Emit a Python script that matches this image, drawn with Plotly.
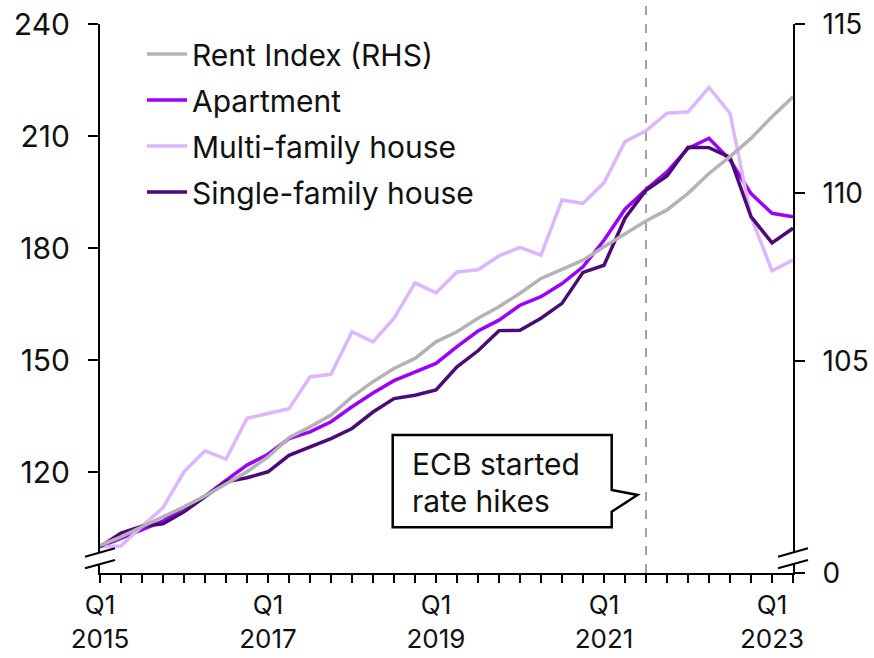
import plotly.graph_objects as go

# ---------------- data ----------------
quarters = [f"Q{q} {y}" for y in range(2015, 2024) for q in range(1, 5)][:34]

rent_index = [99.55, 99.80, 100.10, 100.39, 100.69, 101.01, 101.38, 101.73, 102.17, 102.74,
              103.06, 103.41, 103.95, 104.40, 104.79, 105.09, 105.58, 105.88, 106.28, 106.62,
              107.02, 107.46, 107.73, 108.00, 108.40, 108.79, 109.16, 109.49, 109.98, 110.57,
              111.07, 111.61, 112.25, 112.84]
apartment = [100.0, 102.3, 104.8, 106.9, 110.5, 113.6, 117.8, 121.9, 124.8, 129.0,
             130.8, 133.5, 137.5, 141.2, 144.5, 146.9, 149.1, 153.6, 157.8, 160.7,
             164.7, 167.0, 170.5, 175.0, 182.1, 190.4, 195.7, 200.4, 206.7, 209.4,
             203.6, 194.6, 189.3, 188.4]
multi_family = [100.0, 100.2, 105.5, 110.5, 120.1, 125.7, 123.5, 134.4, 135.7, 137.0,
                145.5, 146.2, 157.6, 154.9, 161.2, 170.7, 168.0, 173.6, 174.2, 177.9,
                180.2, 178.1, 192.9, 192.0, 197.5, 208.5, 211.4, 216.1, 216.5, 223.0,
                216.1, 188.4, 173.9, 176.8]
single_family = [100.0, 103.7, 105.5, 106.2, 109.4, 113.4, 117.4, 118.5, 120.1, 124.5,
                 126.8, 129.0, 131.7, 136.1, 139.7, 140.6, 142.0, 148.2, 152.5, 157.9,
                 158.0, 161.2, 165.2, 173.5, 175.4, 188.0, 195.5, 199.3, 207.0, 206.9,
                 204.3, 188.4, 181.4, 185.3]

left_ticks = [120, 150, 180, 210, 240]
right_ticks = [105, 110, 115]
xlabel_quarters = ["Q1 2015", "Q1 2017", "Q1 2019", "Q1 2021", "Q1 2023"]
event_quarter = "Q3 2021"
event_text = ["ECB started", "rate hikes"]

# ---------------- style ----------------
FONT = "Inter"
FS_LEG = 30
FS_Y = 30
FS_Y2 = 28
FS_X = 26
FS_ANN = 30
TXT = "#111111"
C_RENT = "#b3b3b3"
C_APT = "#9b00ff"
C_MULTI = "#dcb6ff"
C_SINGLE = "#4b0a78"
LW = 3.5

# body margin is removed via post_script, so figure pixels == screen pixels
OFF = 0
W, H = 874, 658
# plot area in screen pixels
L, R, T, B = 100, 793, 24, 573


def px(x):
    return (x - L) / (R - L)


def py(y):
    return (B - y) / (B - T)


left_range = [93.0, 240]
right_range = [98.73, 115]

fig = go.Figure()
fig.add_trace(go.Scatter(x=quarters, y=rent_index, name="Rent Index (RHS)", yaxis="y2",
                         mode="lines", line=dict(color=C_RENT, width=LW), legendgroup="a"))
fig.add_trace(go.Scatter(x=quarters, y=apartment, name="Apartment",
                         mode="lines", line=dict(color=C_APT, width=LW), legendgroup="b"))
fig.add_trace(go.Scatter(x=quarters, y=multi_family, name="Multi-family house",
                         mode="lines", line=dict(color=C_MULTI, width=LW), legendgroup="c"))
fig.add_trace(go.Scatter(x=quarters, y=single_family, name="Single-family house",
                         mode="lines", line=dict(color=C_SINGLE, width=LW), legendgroup="d"))

ticktext = []
for q in quarters:
    if q in xlabel_quarters:
        a, b = q.split(" ")
        ticktext.append(f"{a}<br>{b}")
    else:
        ticktext.append("")

axis_common = dict(showline=True, linecolor="black", linewidth=2,
                   ticks="outside", tickwidth=2, tickcolor="black",
                   showgrid=False, zeroline=False, automargin=False,
                   ticklabeloverflow="allow")

fig.update_layout(
    width=W, height=H,
    margin=dict(l=L - OFF, r=W - (R - OFF), t=T - OFF, b=H - (B - OFF), autoexpand=False),
    paper_bgcolor="white", plot_bgcolor="white",
    font=dict(family=FONT, size=FS_Y, color=TXT),
    showlegend=True,
    legend=dict(x=px(142), y=py(28), xanchor="left", yanchor="top",
                font=dict(size=FS_LEG, color=TXT, family=FONT), bgcolor="rgba(0,0,0,0)",
                tracegroupgap=4, itemwidth=40),
    xaxis=dict(type="category", range=[0, len(quarters) - 1],
               tickvals=quarters, ticktext=ticktext, tickangle=0, ticklen=8,
               tickfont=dict(size=FS_X, color=TXT, family=FONT), **axis_common),
    yaxis=dict(range=left_range, tickvals=left_ticks, ticklabelstandoff=12, ticklen=10,
               tickfont=dict(size=FS_Y, color=TXT, family=FONT), **axis_common),
    yaxis2=dict(range=right_range, overlaying="y", side="right",
                tickvals=[right_range[0]] + right_ticks,
                ticktext=["0"] + [str(v) for v in right_ticks],
                ticklabelstandoff=12, ticklen=10,
                tickfont=dict(size=FS_Y2, color=TXT, family=FONT), **axis_common),
)

shapes = []
# event dashed line
shapes.append(dict(type="line", xref="x", yref="paper", x0=event_quarter, x1=event_quarter,
                   y0=0, y1=py(0), line=dict(color="#666666", width=1.2, dash="dash"),
                   layer="below"))
# axis breaks
for ax in (L, R):
    x0, x1 = ax - 15, ax + 15
    path = f"M{px(x0)},{py(556.7)} L{px(x1)},{py(548.3)} L{px(x1)},{py(560)} L{px(x0)},{py(568.3)} Z"
    shapes.append(dict(type="path", xref="paper", yref="paper", path=path,
                       fillcolor="white", line=dict(width=0), layer="above"))
    shapes.append(dict(type="line", xref="paper", yref="paper", x0=px(x0), y0=py(556.7),
                       x1=px(x1), y1=py(548.3), line=dict(color="black", width=2), layer="above"))
    shapes.append(dict(type="line", xref="paper", yref="paper", x0=px(x0), y0=py(568.3),
                       x1=px(x1), y1=py(560), line=dict(color="black", width=2), layer="above"))
# callout box
pts = [(392.7, 435), (611.7, 435), (611.7, 490), (637.5, 495), (611.7, 511.7),
       (611.7, 527.3), (392.7, 527.3)]
path = "M" + " L".join(f"{px(x)},{py(y)}" for x, y in pts) + " Z"
shapes.append(dict(type="path", xref="paper", yref="paper", path=path,
                   fillcolor="white", line=dict(color="black", width=2.5), layer="above"))
fig.update_layout(shapes=shapes)

for txt, yc in zip(event_text, [464, 501]):
    fig.add_annotation(x=px(410), y=py(yc), xref="paper", yref="paper", text=txt,
                       showarrow=False, xanchor="left", yanchor="middle",
                       font=dict(size=FS_ANN, color=TXT, family=FONT))

fig.write_html("out.html", config={"displayModeBar": False},
               post_script="document.body.style.margin='0';document.body.style.padding='0';")
